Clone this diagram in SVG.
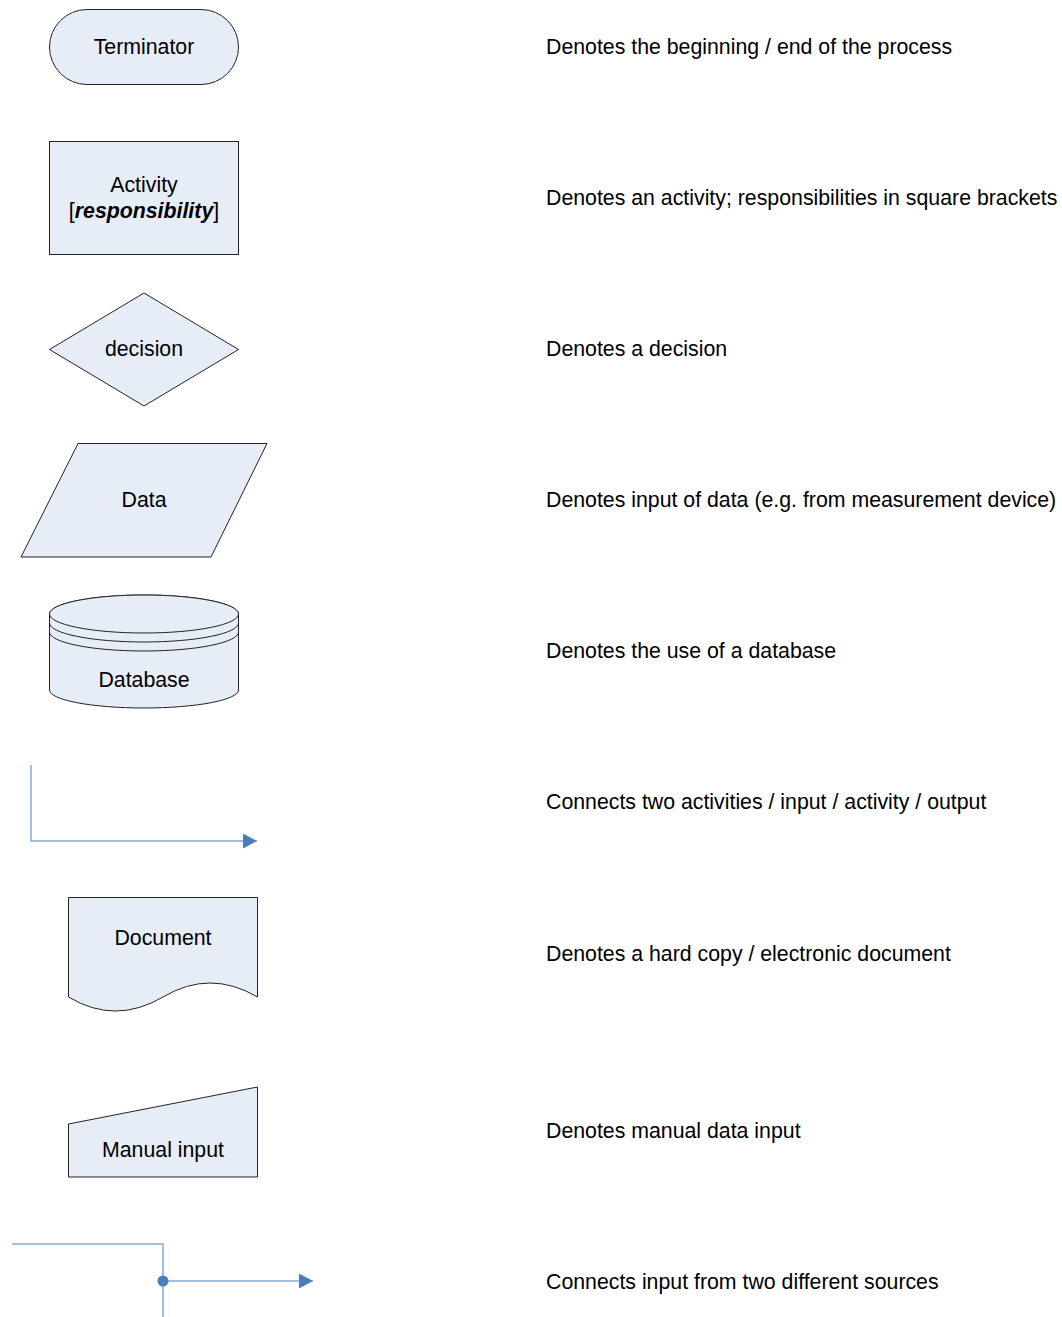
<svg xmlns="http://www.w3.org/2000/svg" width="1062" height="1317" viewBox="0 0 1062 1317">
<style>
.shape{fill:#e7edf7;stroke:#222;stroke-width:1}
.lbl{font-family:"Liberation Sans",Arial,sans-serif;font-size:21.3px;fill:#000;text-anchor:middle}
.desc{font-family:"Liberation Sans",Arial,sans-serif;font-size:21.3px;fill:#000}
.conn{fill:none;stroke:#86a9de;stroke-width:1.5}
</style>
<defs>
<marker id="arr" viewBox="0 0 14 15" refX="14" refY="7.5" markerWidth="14" markerHeight="15" markerUnits="userSpaceOnUse" orient="auto">
<path d="M0,0 L14,7.5 L0,15 Z" fill="#4a7ebb"/>
</marker>
</defs>
<rect width="1062" height="1317" fill="#fff"/>

<g id="terminator">
<rect class="shape" x="49.5" y="9.5" width="189" height="75" rx="37.5" ry="37.5"/>
<text class="lbl" x="144" y="54">Terminator</text>
</g>
<g id="activity">
<rect class="shape" x="49.5" y="141.5" width="189" height="113"/>
<text class="lbl" x="144" y="192">Activity</text>
<text class="lbl" x="144" y="218">[<tspan font-weight="bold" font-style="italic">responsibility</tspan>]</text>
</g>
<g id="decision">
<polygon class="shape" points="49.5,349.5 144,293 238.5,349.5 144,406"/>
<text class="lbl" x="144" y="356">decision</text>
</g>
<g id="data">
<polygon class="shape" points="78,443.5 267,443.5 211,557 21,557"/>
<text class="lbl" x="144" y="507">Data</text>
</g>
<g id="database">
<path class="shape" d="M49.5,614 L49.5,690 A94.5,18 0 0 0 238.5,690 L238.5,614 A94.5,19 0 0 0 49.5,614 Z"/>
<ellipse class="shape" cx="144" cy="614" rx="94.5" ry="19"/>
<path fill="none" stroke="#222" stroke-width="1" d="M49.5,623 A94.5,19 0 0 0 238.5,623 M49.5,632 A94.5,19 0 0 0 238.5,632"/>
<text class="lbl" x="144" y="687">Database</text>
</g>
<g id="document">
<path class="shape" d="M68.5,897.5 L257.5,897.5 L257.5,997 Q210,969 163,997 Q115,1025 68.5,997 Z"/>
<text class="lbl" x="163" y="945">Document</text>
</g>
<g id="manual-input">
<polygon class="shape" points="68.5,1124 257.5,1087 257.5,1177 68.5,1177"/>
<text class="lbl" x="163" y="1157">Manual input</text>
</g>

<g id="connectors">
<path class="conn" d="M31,765 L31,841 L257,841" marker-end="url(#arr)"/>
<path class="conn" d="M12,1244 L163,1244 L163,1317"/>
<path class="conn" d="M163,1281 L313,1281" marker-end="url(#arr)"/>
<circle cx="163" cy="1281" r="5.5" fill="#4a7ebb"/>
</g>

<g id="descriptions">
<text class="desc" x="546" y="54">Denotes the beginning / end of the process</text>
<text class="desc" x="546" y="205">Denotes an activity; responsibilities in square brackets</text>
<text class="desc" x="546" y="356">Denotes a decision</text>
<text class="desc" x="546" y="507">Denotes input of data (e.g. from measurement device)</text>
<text class="desc" x="546" y="658">Denotes the use of a database</text>
<text class="desc" x="546" y="809">Connects two activities / input / activity / output</text>
<text class="desc" x="546" y="961">Denotes a hard copy / electronic document</text>
<text class="desc" x="546" y="1138">Denotes manual data input</text>
<text class="desc" x="546" y="1289">Connects input from two different sources</text>
</g>
</svg>
